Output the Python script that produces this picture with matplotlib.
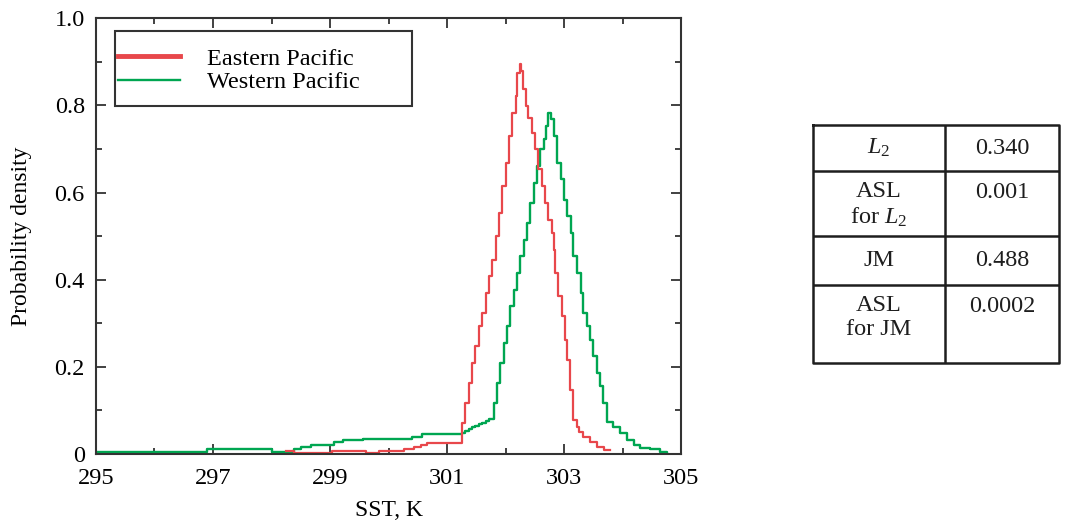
import numpy as np
import matplotlib
matplotlib.use("Agg")
import matplotlib.pyplot as plt
from matplotlib.lines import Line2D
from matplotlib.patches import Rectangle

plt.rcParams['font.family'] = ['Liberation Serif', 'DejaVu Serif']
plt.rcParams['mathtext.fontset'] = 'custom'
plt.rcParams['mathtext.rm'] = 'Liberation Serif'
plt.rcParams['mathtext.it'] = 'Liberation Serif:italic'

# ---- step pdfs (left bin edge, density) ----
sst_east = [298.24, 298.38, 299.04, 299.62, 299.83, 300.26, 300.43, 300.55, 300.66,
            301.26, 301.31, 301.37, 301.43, 301.48, 301.54, 301.60, 301.66, 301.71,
            301.77, 301.83, 301.88, 301.94, 302.00, 302.05, 302.11, 302.17, 302.20,
            302.24, 302.26, 302.30, 302.34, 302.39, 302.45, 302.51, 302.56, 302.62,
            302.68, 302.73, 302.79, 302.82, 302.85, 302.90, 302.96, 303.02, 303.05,
            303.10, 303.16, 303.22, 303.25, 303.33, 303.45, 303.56, 303.68, 303.73, 303.78]
pdf_east = [0.007, 0.002, 0.007, 0.002, 0.007, 0.012, 0.017, 0.021, 0.026,
            0.070, 0.117, 0.163, 0.208, 0.247, 0.293, 0.323, 0.369, 0.408,
            0.446, 0.500, 0.553, 0.614, 0.668, 0.730, 0.783, 0.821, 0.875,
            0.894, 0.879, 0.837, 0.798, 0.772, 0.737, 0.699, 0.653, 0.614,
            0.576, 0.538, 0.507, 0.469, 0.415, 0.362, 0.316, 0.262, 0.216,
            0.147, 0.078, 0.063, 0.051, 0.040, 0.028, 0.017, 0.008, 0.008, 0.008]

sst_west = [295.00, 296.90, 298.01, 298.38, 298.50, 298.67, 299.06, 299.23, 299.57,
            300.40, 300.57, 301.26, 301.31, 301.37, 301.43, 301.48, 301.54, 301.60,
            301.66, 301.71, 301.74, 301.80, 301.85, 301.91, 301.97, 302.02, 302.08,
            302.14, 302.19, 302.25, 302.31, 302.36, 302.42, 302.48, 302.53, 302.59,
            302.65, 302.69, 302.73, 302.77, 302.82, 302.88, 302.94, 302.99, 303.05,
            303.11, 303.16, 303.22, 303.28, 303.33, 303.39, 303.45, 303.50, 303.56,
            303.62, 303.67, 303.73, 303.84, 303.96, 304.07, 304.19, 304.30, 304.47,
            304.64, 304.75]
pdf_west = [0.005, 0.011, 0.005, 0.011, 0.016, 0.021, 0.027, 0.032, 0.035,
            0.040, 0.045, 0.049, 0.053, 0.057, 0.061, 0.064, 0.068, 0.072,
            0.076, 0.080, 0.080, 0.117, 0.163, 0.208, 0.254, 0.293, 0.339,
            0.377, 0.415, 0.454, 0.492, 0.530, 0.576, 0.622, 0.660, 0.699,
            0.722, 0.752, 0.783, 0.768, 0.730, 0.668, 0.630, 0.584, 0.546,
            0.507, 0.454, 0.415, 0.369, 0.323, 0.293, 0.262, 0.224, 0.186,
            0.155, 0.117, 0.074, 0.063, 0.048, 0.032, 0.021, 0.013, 0.011,
            0.005, 0.000]

xticks = [295, 297, 299, 301, 303, 305]
xminor = [296, 298, 300, 302, 304]
yticks = [0, 0.2, 0.4, 0.6, 0.8, 1.0]
ylabels = ['0', '0.2', '0.4', '0.6', '0.8', '1.0']

row_names = [r'$L_2$', 'ASL\nfor $L_2$', 'JM', 'ASL\nfor JM']
row_values = ['0.340', '0.001', '0.488', '0.0002']

red = '#e8474b'
green = '#00a651'
dark = '#333333'
fs = 17.5

fig = plt.figure(figsize=(10.66, 5.23), dpi=100)
ax = fig.add_axes([0.090, 0.132, 0.549, 0.833])

ax.step(sst_west, pdf_west, where='post', color=green, lw=1.7)
ax.step(sst_east, pdf_east, where='post', color=red, lw=1.6)

ax.set_xlim(295, 305)
ax.set_ylim(0, 1.0)
ax.set_xticks(xticks)
ax.set_xticks(xminor, minor=True)
ax.set_xticklabels([str(t) for t in xticks])
ax.set_yticks(yticks)
ax.set_yticks([0.1, 0.3, 0.5, 0.7, 0.9], minor=True)
ax.set_yticklabels(ylabels)
ax.tick_params(which='both', direction='in', top=True, right=True,
               labelsize=fs, color=dark, width=1.3)
ax.tick_params(axis='x', pad=10)
ax.tick_params(axis='y', pad=8)
ax.tick_params(which='major', length=7)
ax.tick_params(which='minor', length=4.3)
for s in ax.spines.values():
    s.set_color(dark)
    s.set_linewidth(1.5)

ax.set_xlabel('SST, K', fontsize=17, labelpad=8)
ax.set_ylabel('Probability density', fontsize=17, labelpad=16)

# legend: frameless entries inside a hand-drawn box
ax.add_patch(Rectangle((0.0325, 0.798), 0.508, 0.174, transform=ax.transAxes,
                       fill=False, edgecolor=dark, lw=1.5, zorder=4))
key_e = Line2D([], [], color=red, lw=3.5)
key_w = Line2D([], [], color=green, lw=1.7)
leg = ax.legend([key_e, key_w], ['Eastern Pacific', 'Western Pacific'],
                loc='upper left', bbox_to_anchor=(0.0376, 0.932), fontsize=fs,
                frameon=False, handlelength=2.55, handletextpad=1.1,
                labelspacing=0.06, borderpad=0.0, borderaxespad=0.0)

# ---- statistics table ----
tx = fig.add_axes([813 / 1066, 1 - 363 / 523, (1059 - 813) / 1066, (363 - 125) / 523])
tx.set_xlim(813, 1059)
tx.set_ylim(363, 125)
tx.axis('off')
row_edges = [125, 171, 236, 285, 363]
col_mid = 945
ink = '#1e1e1e'
tx.plot([813, 1059, 1059, 813, 813], [125, 125, 363, 363, 125], color=ink, lw=1.8,
        clip_on=False)
tx.plot([col_mid, col_mid], [125, 363], color=ink, lw=1.8)
for yb in row_edges[1:-1]:
    tx.plot([813, 1059], [yb, yb], color=ink, lw=1.8)

for i, (name, val) in enumerate(zip(row_names, row_values)):
    top, bot = row_edges[i], row_edges[i + 1]
    if '\n' in name:
        tx.text((813 + col_mid) / 2, top + 10, name, ha='center', va='top',
                fontsize=fs, linespacing=1.2, color=ink)
        tx.text((col_mid + 1059) / 2, top + 11, val, ha='center', va='top',
                fontsize=fs, color=ink)
    else:
        tx.text((813 + col_mid) / 2, (top + bot) / 2, name, ha='center', va='center',
                fontsize=fs, color=ink)
        tx.text((col_mid + 1059) / 2, (top + bot) / 2, val, ha='center', va='center',
                fontsize=fs, color=ink)

fig.savefig('out.png', dpi=100)
